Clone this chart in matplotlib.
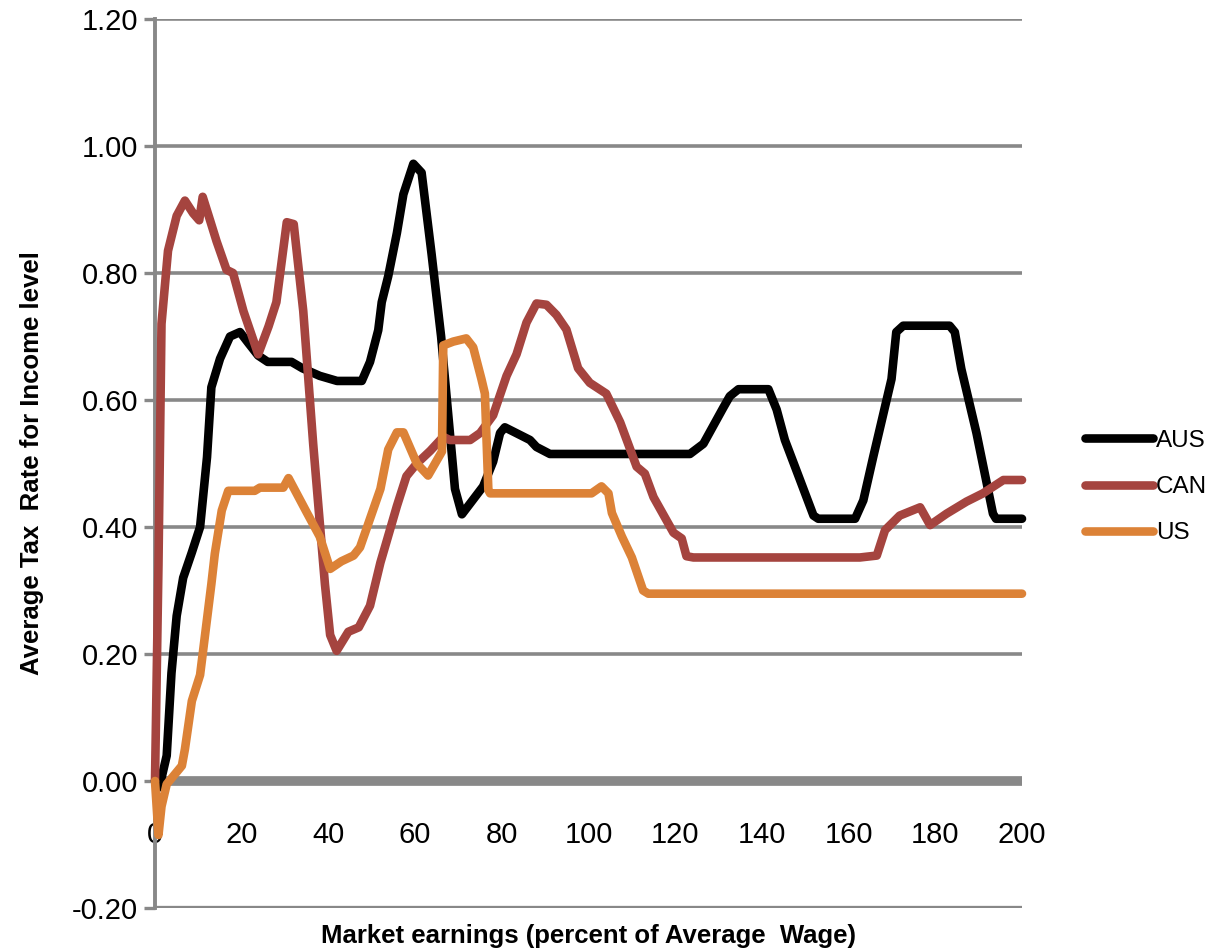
import matplotlib
matplotlib.use("Agg")
import matplotlib.pyplot as plt

# ---- data ----
aus_x = [0, 1, 2.7, 3.8, 5, 6.5, 8.5, 10.4, 12, 13, 15, 17.3, 19.6, 21.5, 23.8, 26, 31.5, 34, 38, 42,
         47.7, 49.6, 51.5, 52.3, 53.8, 55.8, 57.3, 59.6, 61.5, 63.8, 66, 68, 69.2, 70.8, 75.7, 78,
         79.6, 80.7, 86.5, 88, 91.1, 123.4, 126.5, 131.1, 132.6, 134.6, 141.5, 143.4, 145.3, 148.8,
         151.9, 153, 161.5, 163.4, 165.7, 169.9, 171, 172.6, 183.3, 184.5, 186, 189.5, 193.3, 194, 200]
aus_y = [0.0, -0.01, 0.04, 0.17, 0.26, 0.32, 0.36, 0.40, 0.51, 0.62, 0.665, 0.70, 0.707, 0.69, 0.67,
         0.66, 0.66, 0.65, 0.638, 0.63, 0.63, 0.66, 0.71, 0.754, 0.795, 0.863, 0.924, 0.972, 0.958,
         0.83, 0.70, 0.55, 0.46, 0.42, 0.464, 0.503, 0.548, 0.557, 0.537, 0.526, 0.515, 0.515, 0.531,
         0.588, 0.606, 0.617, 0.617, 0.585, 0.537, 0.474, 0.418, 0.413, 0.413, 0.442, 0.511, 0.633,
         0.707, 0.717, 0.717, 0.707, 0.649, 0.548, 0.421, 0.413, 0.413]

can_x = [0, 0.8, 1.5, 3, 5, 6.9, 8.8, 10.2, 11, 12.7, 14.2, 16.5, 18, 20.4, 23.8, 26.2, 28, 30.4, 32,
         34.2, 36.5, 39.2, 40.4, 41.9, 44.6, 47, 49.6, 52, 53.5, 55.8, 58, 60.4, 63.5, 66.5, 68, 72.7,
         75, 78, 81.1, 83.4, 85.7, 88, 90.3, 92.6, 94.9, 97.6, 100.3, 104.1, 107.3, 111.1, 113, 115,
         119.6, 121.5, 122.6, 124.2, 162.6, 166.5, 168.4, 171.8, 176.5, 178.8, 182.6, 187.2, 191,
         195.7, 200]
can_y = [0, 0.34, 0.72, 0.835, 0.89, 0.914, 0.894, 0.883, 0.92, 0.883, 0.85, 0.805, 0.80, 0.74, 0.672,
         0.716, 0.754, 0.88, 0.877, 0.74, 0.53, 0.31, 0.23, 0.205, 0.235, 0.242, 0.276, 0.344, 0.379,
         0.433, 0.48, 0.50, 0.52, 0.542, 0.537, 0.537, 0.548, 0.576, 0.638, 0.672, 0.722, 0.752, 0.75,
         0.734, 0.711, 0.65, 0.627, 0.61, 0.565, 0.495, 0.484, 0.447, 0.391, 0.382, 0.354, 0.352,
         0.352, 0.355, 0.395, 0.418, 0.431, 0.403, 0.421, 0.44, 0.453, 0.474, 0.474]

us_x = [0, 0.8, 1.5, 2.7, 6.2, 6.9, 8.5, 10.4, 13, 13.8, 15.4, 16.9, 23, 24.2, 29.6, 30.8, 35, 38, 40.4,
        43, 45.8, 47.3, 49.6, 52, 53.8, 55.8, 57.3, 60.4, 63, 66.2, 66.5, 68.8, 71.8, 73.4, 75.3,
        76.1, 76.9, 77.3, 100.7, 103, 104.6, 105.4, 107.7, 110, 112.6, 113.8, 200]
us_y = [0, -0.085, -0.04, -0.005, 0.024, 0.05, 0.126, 0.167, 0.31, 0.358, 0.426, 0.457, 0.457, 0.462,
        0.462, 0.477, 0.423, 0.385, 0.334, 0.346, 0.355, 0.368, 0.413, 0.46, 0.522, 0.549, 0.549,
        0.50, 0.481, 0.519, 0.686, 0.692, 0.697, 0.683, 0.633, 0.61, 0.458, 0.453, 0.453, 0.464,
        0.453, 0.422, 0.385, 0.352, 0.30, 0.295, 0.295]

series_names = ["AUS", "CAN", "US"]
series_colors = ["#000000", "#A5443F", "#DC8237"]

x_ticks = [0, 20, 40, 60, 80, 100, 120, 140, 160, 180, 200]
y_ticks = [-0.20, 0.00, 0.20, 0.40, 0.60, 0.80, 1.00, 1.20]

x_label = "Market earnings (percent of Average  Wage)"
y_label = "Average Tax  Rate for Income level"

# ---- figure ----
plt.rcParams['font.family'] = ['Liberation Sans', 'DejaVu Sans']
GRAY = "#888888"
LW = 6.2

fig = plt.figure(figsize=(12.05, 9.5), dpi=100)
ax = fig.add_axes([155/1205, 1 - 908/950, (1022-155)/1205, (908-19)/950])

ax.set_xlim(0, 200)
ax.set_ylim(-0.2, 1.2)

for yt in y_ticks:
    if yt == 0.0:
        continue
    ax.axhline(yt, color=GRAY, lw=3.8 if yt == -0.2 else 2.6, zorder=1, solid_capstyle='butt')

for xs, ys, name, col in zip([aus_x, can_x, us_x], [aus_y, can_y, us_y], series_names, series_colors):
    ax.plot(xs, ys, color=col, lw=LW, label=name, solid_joinstyle='round',
            solid_capstyle='round', zorder=3, clip_on=False)

for s in ['top', 'right']:
    ax.spines[s].set_visible(False)
ax.spines['left'].set_color(GRAY)
ax.spines['left'].set_linewidth(2.8)
ax.spines['left'].set_zorder(2)
ax.spines['bottom'].set_position(('data', 0))
ax.spines['bottom'].set_color(GRAY)
ax.spines['bottom'].set_linewidth(7)
ax.spines['bottom'].set_zorder(2)
ax.spines['bottom'].set_capstyle('butt')

ax.set_yticks(y_ticks)
ax.set_yticklabels([f"{v:.2f}" for v in y_ticks])
ax.set_xticks(x_ticks)
ax.set_xticklabels([str(v) for v in x_ticks])
ax.tick_params(axis='y', direction='out', length=8, width=2.4, color=GRAY, pad=4, labelsize=21)
ax.tick_params(axis='x', length=0, pad=29, labelsize=21)

ax.set_xlabel(x_label, fontsize=18.5, fontweight='bold', labelpad=0)
ax.xaxis.set_label_coords(0.5, -0.018)
ax.set_ylabel(y_label, fontsize=18.5, fontweight='bold')
ax.yaxis.set_label_coords(-0.128, 0.5)

leg = ax.legend(loc='center left', bbox_to_anchor=(1085/1205, 1 - 487/950),
                bbox_transform=fig.transFigure, frameon=False, fontsize=17.5,
                handlelength=2.8, handletextpad=0.12, labelspacing=1.0,
                borderpad=0, borderaxespad=0)
for h in leg.get_lines():
    h.set_linewidth(LW)
    h.set_solid_capstyle('round')

fig.savefig("out.png", dpi=100)
